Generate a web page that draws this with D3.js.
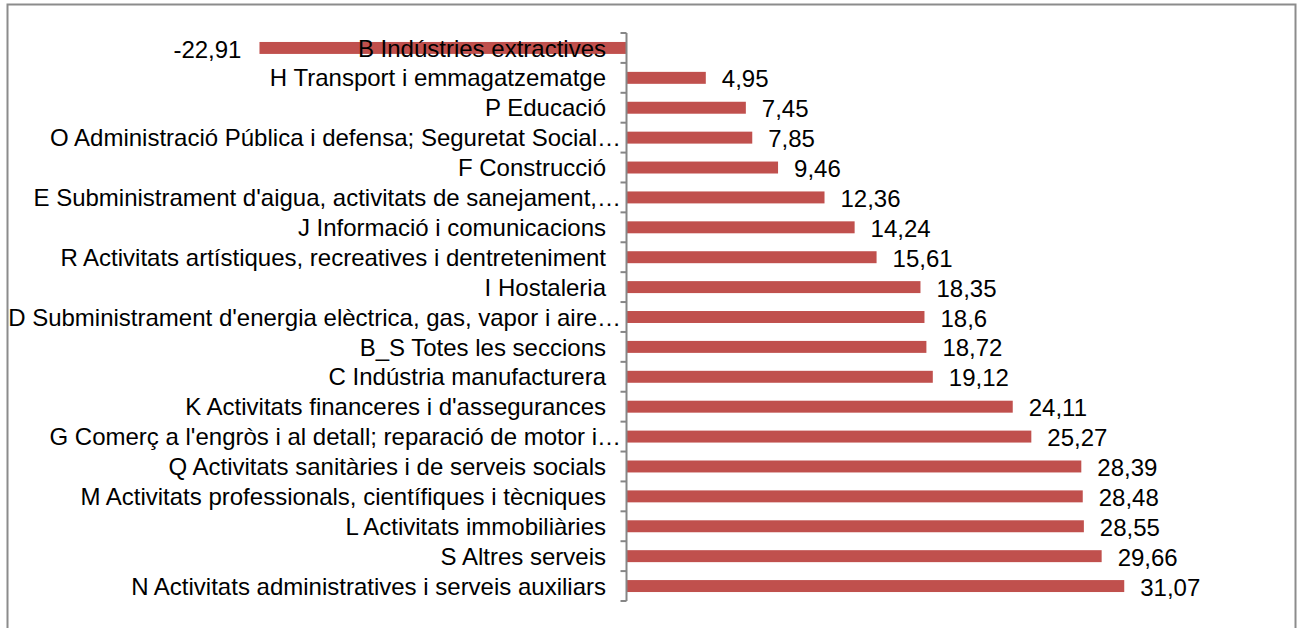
<!DOCTYPE html>
<html>
<head>
<meta charset="utf-8">
<script src="https://cdn.jsdelivr.net/npm/d3@7"></script>
<style>
  html, body { margin: 0; padding: 0; background: #fff; }
  svg { display: block; }
  text { font-family: "Liberation Sans", Arial, sans-serif; fill: #000; }
</style>
</head>
<body>
<svg id="chart" width="1304" height="628"></svg>
<script>
// Sector names (top to bottom) and their values
const categories = [
  "B Indústries extractives",
  "H Transport i emmagatzematge",
  "P Educació",
  "O Administració Pública i defensa; Seguretat Social…",
  "F Construcció",
  "E Subministrament d'aigua, activitats de sanejament,…",
  "J Informació i comunicacions",
  "R Activitats artístiques, recreatives i dentreteniment",
  "I Hostaleria",
  "D Subministrament d'energia elèctrica, gas, vapor i aire…",
  "B_S Totes les seccions",
  "C Indústria manufacturera",
  "K Activitats financeres i d'assegurances",
  "G Comerç a l'engròs i al detall; reparació de motor i…",
  "Q Activitats sanitàries i de serveis socials",
  "M Activitats professionals, científiques i tècniques",
  "L Activitats immobiliàries",
  "S Altres serveis",
  "N Activitats administratives i serveis auxiliars"
];
const values = [-22.91, 4.95, 7.45, 7.85, 9.46, 12.36, 14.24, 15.61, 18.35, 18.6,
                18.72, 19.12, 24.11, 25.27, 28.39, 28.48, 28.55, 29.66, 31.07];

const svg = d3.select("#chart");
const FS = 24;

// Outer frame
svg.append("rect")
  .attr("x", 7.5).attr("y", 4.5)
  .attr("width", 1288).attr("height", 640)
  .attr("fill", "#fff")
  .attr("stroke", "#8c8c8c").attr("stroke-width", 2);

const zeroX = 626.5;
const k = 16.02;
const x = d3.scaleLinear().domain([-25, 35]).range([zeroX - 25 * k, zeroX + 35 * k]);
const y = d3.scaleBand().domain(categories).range([33, 601]).paddingInner(0.6).paddingOuter(0.3);

const fmt = v => String(v).replace(".", ",");

// Bars
svg.append("g").selectAll("rect")
  .data(values)
  .join("rect")
  .attr("x", d => Math.min(x(0), x(d)))
  .attr("y", (d, i) => y(categories[i]))
  .attr("width", d => Math.abs(x(d) - x(0)))
  .attr("height", y.bandwidth())
  .attr("fill", "#c0504d");

// Category axis: vertical line with ticks at band boundaries
const axisG = svg.append("g").attr("stroke", "#868686").attr("stroke-width", 2).attr("fill", "none");
axisG.append("line").attr("x1", zeroX).attr("x2", zeroX).attr("y1", 33).attr("y2", 601);
const step = y.step();
d3.range(categories.length + 1).forEach(i => {
  const ty = 33 + i * step;
  axisG.append("line").attr("x1", zeroX - 6).attr("x2", zeroX).attr("y1", ty).attr("y2", ty);
});

// Category labels
svg.append("g").selectAll("text")
  .data(categories)
  .join("text")
  .attr("x", d => d.endsWith("…") ? 621 : 606)
  .attr("y", d => y(d) + y.bandwidth() / 2)
  .attr("dy", "0.36em")
  .attr("text-anchor", "end")
  .attr("font-size", FS)
  .text(d => d);

// Value labels
svg.append("g").selectAll("text")
  .data(values)
  .join("text")
  .attr("x", d => d < 0 ? x(d) - 18 : x(d) + 16)
  .attr("y", (d, i) => y(categories[i]) + y.bandwidth() / 2)
  .attr("dy", "0.4em")
  .attr("text-anchor", d => d < 0 ? "end" : "start")
  .attr("font-size", FS)
  .text(d => fmt(d));
</script>
</body>
</html>
